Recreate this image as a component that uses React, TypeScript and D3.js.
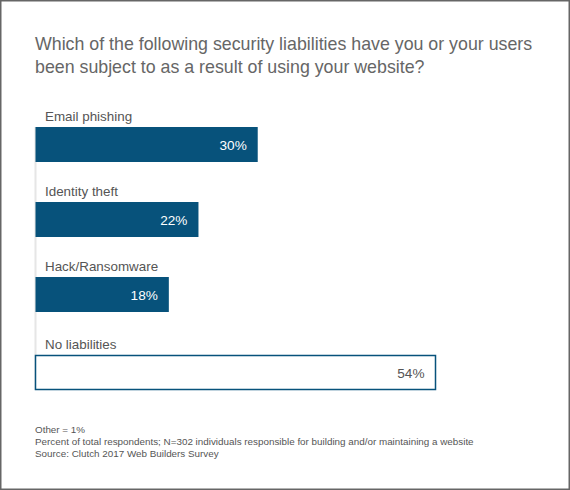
import React from "react";
import * as d3 from "d3";

const titleLines = [
  "Which of the following security liabilities have you or your users",
  "been subject to as a result of using your website?",
];
const categories = ["Email phishing", "Identity theft", "Hack/Ransomware", "No liabilities"];
const values = [30, 22, 18, 54];
const highlighted = [true, true, true, false];
const footnotes = [
  "Other = 1%",
  "Percent of total respondents; N=302 individuals responsible for building and/or maintaining a website",
  "Source: Clutch 2017 Web Builders Survey",
];

const W = 570;
const H = 490;
const FONT = "'Liberation Sans', Arial, Helvetica, sans-serif";
const BLUE = "#07527b";

export default function App() {
  const x = d3.scaleLinear().domain([0, 54]).range([35.5, 435.5]);
  const y = d3
    .scaleBand<string>()
    .domain(categories)
    .range([127, 387])
    .paddingInner(40 / 75)
    .paddingOuter(0)
    .align(0);
  const bh = y.bandwidth();

  return (
    <div style={{ position: "fixed", left: 0, top: 0 }}>
      <svg width={W} height={H} style={{ display: "block", fontFamily: FONT }}>
        <rect x={0} y={0} width={W} height={H} fill="#fff" />
        <rect x={0.75} y={0.75} width={W - 1.5} height={H - 1.5} fill="none" stroke="#666" strokeWidth={1.5} />
        {titleLines.map((t, i) => (
          <text key={i} x={35} y={50 + i * 23} fontSize={17.8} fill="#666">
            {t}
          </text>
        ))}
        <line x1={35.5} x2={35.5} y1={127} y2={390} stroke="#e6e6e6" strokeWidth={2} />
        {categories.map((c, i) => {
          const top = (y(c) as number) + (highlighted[i] ? 0 : 3);
          const w = x(values[i]) - x(0);
          return (
            <g key={c}>
              <text x={45} y={top - 6} fontSize={13.4} fill="#555">
                {c}
              </text>
              {highlighted[i] ? (
                <rect x={x(0)} y={top} width={w} height={bh} fill={BLUE} />
              ) : (
                <rect x={x(0)} y={top + 0.5} width={w} height={bh - 1} fill="#fff" stroke={BLUE} strokeWidth={1.5} />
              )}
              <text
                x={x(values[i]) - 11}
                y={top + bh / 2 + 5}
                fontSize={13.6}
                textAnchor="end"
                fill={highlighted[i] ? "#fff" : "#555"}
              >
                {values[i]}%
              </text>
            </g>
          );
        })}
        {footnotes.map((f, i) => (
          <text key={i} x={35} y={433 + i * 12} fontSize={9.85} fill="#555">
            {f}
          </text>
        ))}
      </svg>
    </div>
  );
}
